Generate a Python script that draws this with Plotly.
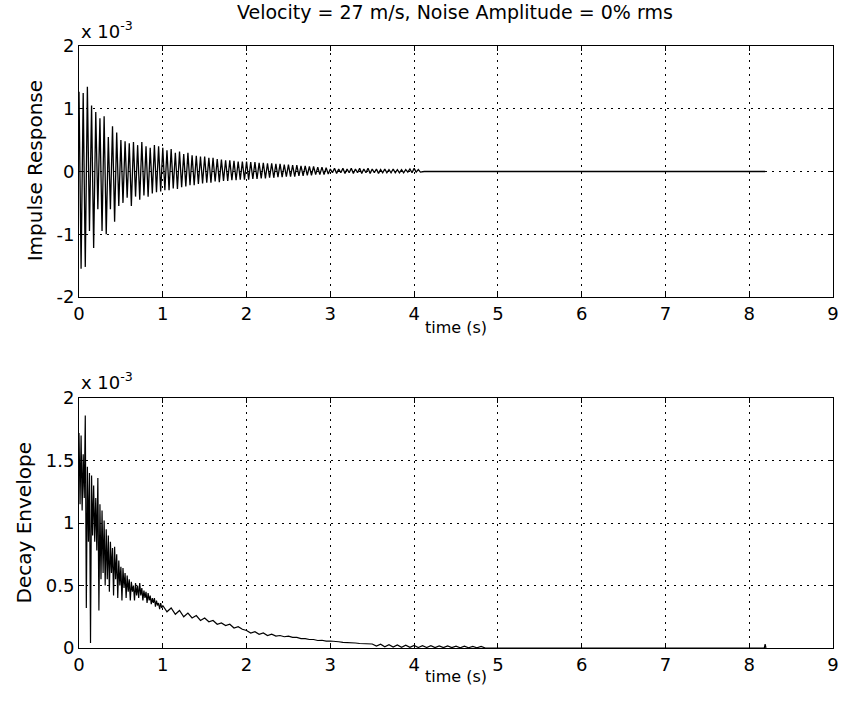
import numpy as np
import plotly.graph_objects as go

# ---------------- data (values in units of 1e-3) ----------------
TITLE = "Velocity = 27 m/s, Noise Amplitude = 0% rms"
x_ticks = [0, 1, 2, 3, 4, 5, 6, 7, 8, 9]
y_ticks_top = [-2, -1, 0, 1, 2]
y_ticks_bot = [0, 0.5, 1, 1.5, 2]
y_ticklabels_bot = ["0", "0.5", "1", "1.5", "2"]

# impulse response: alternating extremes, sampled every 0.025 s from t = 0
impulse_dt = 0.025
impulse_vals = [
    1.27, -1.55, 1.25, -1.52, 1.35, -0.95, 1.05, -1.22, 0.95, -0.60,
    0.85, -0.95, 0.88, -1.00, 0.55, -0.60, 0.72, -0.80, 0.62, -0.55,
    0.50, -0.50, 0.48, -0.42, 0.45, -0.55, 0.47, -0.40, 0.42, -0.45,
    0.47, -0.38, 0.40, -0.40, 0.38, -0.35, 0.42, -0.33, 0.40, -0.32,
    0.38, -0.30, 0.34, -0.30, 0.36, -0.27, 0.30, -0.28, 0.32, -0.25,
    0.28, -0.24, 0.30, -0.22, 0.26, -0.22, 0.25, -0.20, 0.24, -0.19,
    0.24, -0.18, 0.22, -0.18, 0.22, -0.16, 0.20, -0.17, 0.19, -0.15,
    0.18, -0.15, 0.18, -0.14, 0.17, -0.14, 0.16, -0.13, 0.16, -0.13,
    0.16, -0.13, 0.15, -0.12, 0.15, -0.12, 0.14, -0.11, 0.14, -0.11,
    0.13, -0.10, 0.13, -0.10, 0.12, -0.09, 0.12, -0.09, 0.11, -0.08,
    0.11, -0.08, 0.10, -0.08, 0.10, -0.07, 0.09, -0.07, 0.09, -0.06,
    0.08, -0.06, 0.08, -0.05, 0.07, -0.05, 0.07, -0.05, 0.06, -0.04,
    0.04, -0.02, 0.05, -0.03, 0.04, -0.02, 0.05, -0.03, 0.04, -0.02,
    0.05, -0.03, 0.04, -0.02, 0.05, -0.03, 0.04, -0.02, 0.05, -0.03,
    0.04, -0.02, 0.04, -0.03, 0.03, -0.02, 0.04, -0.02, 0.03, -0.02,
    0.04, -0.02, 0.03, -0.02, 0.03, -0.02, 0.03, -0.01, 0.04, -0.02,
    0.05, -0.01, 0.03, -0.01,
]
impulse_tail_t = [4.12, 8.19]
impulse_tail_v = [0.0, 0.0]

# decay envelope: segments (start time, sample step, values)
env_seg1 = [  # t 0 .. 1, step 0.0125
    1.72, 1.15, 1.70, 1.10, 1.55, 1.20, 1.86, 0.32,
    1.45, 0.85, 1.40, 0.04, 1.38, 0.90, 1.30, 0.85,
    1.20, 0.78, 1.36, 0.30, 1.15, 0.55, 1.10, 0.60,
    1.02, 0.50, 0.95, 0.55, 0.90, 0.45, 0.85, 0.60,
    0.80, 0.42, 0.81, 0.55, 0.75, 0.40, 0.70, 0.50,
    0.65, 0.38, 0.64, 0.48, 0.60, 0.40, 0.58, 0.45,
    0.55, 0.38, 0.53, 0.45, 0.50, 0.38, 0.52, 0.42,
    0.50, 0.40, 0.52, 0.42, 0.48, 0.38, 0.46, 0.40,
    0.45, 0.36, 0.44, 0.38, 0.42, 0.35, 0.40, 0.36,
    0.40, 0.33, 0.38, 0.34, 0.36, 0.31, 0.36, 0.32,
]
env_seg2 = [  # t 1 .. 3.5, step 0.05
    0.34, 0.29, 0.32, 0.27, 0.30, 0.25, 0.28, 0.24, 0.26, 0.22,
    0.24, 0.21, 0.22, 0.19, 0.20, 0.18, 0.19, 0.16, 0.17, 0.15,
    0.14, 0.12, 0.13, 0.11, 0.12, 0.10, 0.11, 0.095, 0.10, 0.09,
    0.095, 0.085, 0.085, 0.075, 0.075, 0.068, 0.068, 0.06, 0.062, 0.055,
    0.056, 0.05, 0.05, 0.045, 0.045, 0.04, 0.04, 0.036, 0.036, 0.033,
]
env_seg3 = [  # t 3.5 .. 4.8, step 0.05
    0.032, 0.016, 0.030, 0.010, 0.027, 0.007, 0.025, 0.006, 0.023, 0.005,
    0.021, 0.004, 0.019, 0.004, 0.018, 0.003, 0.017, 0.003, 0.016, 0.003,
    0.015, 0.002, 0.014, 0.002, 0.013, 0.002, 0.012,
]
env_segments = [(0.0, 0.0125, env_seg1), (1.0, 0.05, env_seg2), (3.5, 0.05, env_seg3)]
env_tail_t = [4.85, 8.18, 8.19, 8.20]
env_tail_v = [0.0, 0.0, 0.03, 0.0]

# ---------------- build series ----------------
scale = 1e-3
t_imp = list(np.arange(len(impulse_vals)) * impulse_dt) + impulse_tail_t
v_imp = [v * scale for v in impulse_vals + impulse_tail_v]

t_env, v_env = [], []
for t0, dt, vals in env_segments:
    t_env += list(t0 + np.arange(len(vals)) * dt)
    v_env += vals
t_env += env_tail_t
v_env += env_tail_v
v_env = [v * scale for v in v_env]

# ---------------- figure ----------------
W, H = 847, 702
ML, MR, MT, MB = 79, 8, 46, 54
plot_h = H - MT - MB

def py(pix):
    return (H - MB - pix) / plot_h

def px(pix):
    return (pix - ML) / (W - ML - MR)

FONT = "DejaVu Sans"
FS = 18

fig = go.Figure()
fig.add_trace(go.Scatter(x=t_imp, y=v_imp, mode="lines",
                         line=dict(color="black", width=1.3), xaxis="x", yaxis="y"))
fig.add_trace(go.Scatter(x=t_env, y=v_env, mode="lines",
                         line=dict(color="black", width=1.2), xaxis="x2", yaxis="y2"))

axis_common = dict(
    showline=True, linecolor="black", linewidth=1, mirror="ticks",
    ticks="inside", ticklen=5, tickcolor="black",
    showgrid=True, gridcolor="black", gridwidth=1, griddash="2px,5px",
    zeroline=False, tickfont=dict(family=FONT, size=FS, color="black"),
)

fig.update_layout(
    width=W, height=H, margin=dict(l=ML, r=MR, t=MT, b=MB),
    paper_bgcolor="white", plot_bgcolor="white", showlegend=False,
    xaxis=dict(domain=[0, 1], range=[0, 9], tickvals=x_ticks, anchor="y", **axis_common),
    yaxis=dict(domain=[py(297), 1], range=[-2 * scale, 2 * scale],
               tickvals=[v * scale for v in y_ticks_top],
               ticktext=[str(v) for v in y_ticks_top], anchor="x", **axis_common),
    xaxis2=dict(domain=[0, 1], range=[0, 9], tickvals=x_ticks, anchor="y2", **axis_common),
    yaxis2=dict(domain=[0, py(398)], range=[0, 2 * scale],
                tickvals=[v * scale for v in y_ticks_bot],
                ticktext=y_ticklabels_bot, anchor="x2", **axis_common),
)

ann_font = dict(family=FONT, size=19, color="black")
lab_font = dict(family=FONT, size=20, color="black")
time_font = dict(family=FONT, size=16, color="black")
annotations = [
    dict(text=TITLE, x=px(458), y=py(12), xref="paper", yref="paper",
         showarrow=False, font=ann_font, xanchor="center", yanchor="middle"),
    dict(text="time (s)", x=px(459), y=py(327), xref="paper", yref="paper",
         showarrow=False, font=time_font, xanchor="center", yanchor="middle"),
    dict(text="time (s)", x=px(459), y=py(676), xref="paper", yref="paper",
         showarrow=False, font=time_font, xanchor="center", yanchor="middle"),
    dict(text="Impulse Response", x=px(35), y=py(171), xref="paper", yref="paper",
         showarrow=False, font=lab_font, textangle=-90, xanchor="center", yanchor="middle"),
    dict(text="Decay Envelope", x=px(24), y=py(523), xref="paper", yref="paper",
         showarrow=False, font=lab_font, textangle=-90, xanchor="center", yanchor="middle"),
    dict(text="x 10<sup>-3</sup>", x=px(79), y=py(30), xref="paper", yref="paper",
         showarrow=False, font=dict(family=FONT, size=18, color="black"),
         xanchor="left", yanchor="middle"),
    dict(text="x 10<sup>-3</sup>", x=px(79), y=py(381), xref="paper", yref="paper",
         showarrow=False, font=dict(family=FONT, size=18, color="black"),
         xanchor="left", yanchor="middle"),
]
fig.update_layout(annotations=annotations)

fig.write_html("out.html")
